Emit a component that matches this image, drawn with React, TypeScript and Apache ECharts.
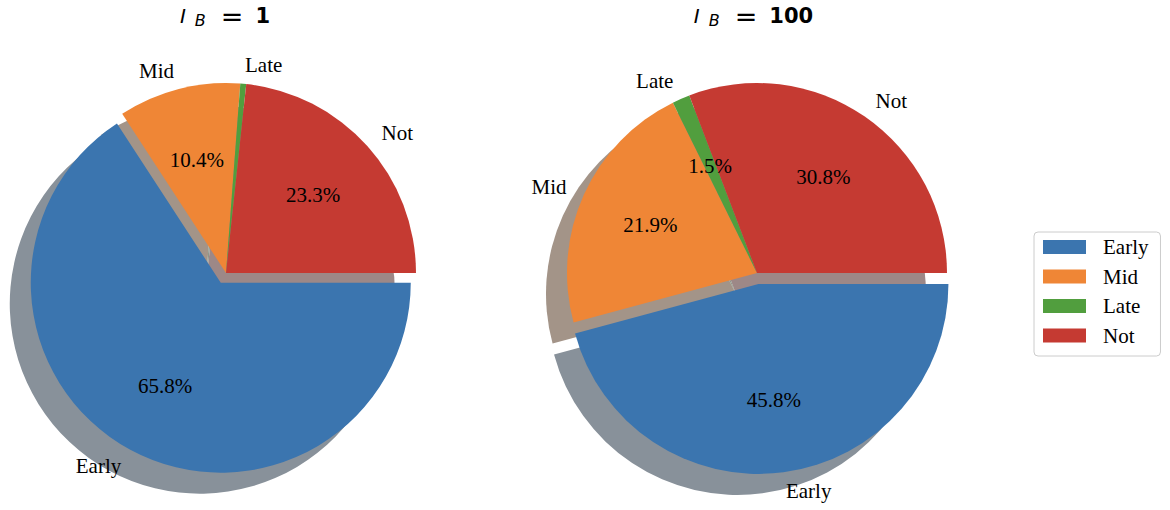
import React, { useEffect, useRef } from 'react';
import * as echarts from 'echarts';

// ---- data ----
const categories = ['Early', 'Mid', 'Late', 'Not'];
const valuesIB1 = [65.8, 10.4, 0.5, 23.3];
const valuesIB100 = [45.8, 21.9, 1.5, 30.8];
const explodedIB1 = [true, false, false, false];
const explodedIB100 = [true, false, false, false];
const titleValues = ['1', '100'];

// ---- style ----
const COLORS = ['#3b75af', '#ef8636', '#519e3e', '#c53a32'];
const SERIF = '"Liberation Serif", "Times New Roman", serif';
const SANS = '"DejaVu Sans", sans-serif';
const R = 190;
const EXPLODE = 11;
const SHADOW_DX = -21;
const SHADOW_DY = 21;

function shadowOf(hex: string): string {
  const h = hex.replace('#', '');
  const c = [0, 2, 4].map((k) => parseInt(h.slice(k, k + 2), 16));
  const s = c.map((v) => Math.round(v * 0.15 + 127.5));
  return `rgb(${s[0]},${s[1]},${s[2]})`;
}

function pieSeries(values: number[], exploded: boolean[], cx: number, cy: number, key: string) {
  const mk = (colorFn: (i: number) => string) =>
    categories.map((name, i) => ({
      name,
      value: values[i],
      selected: exploded[i],
      itemStyle: { color: colorFn(i) },
    }));
  const common = {
    type: 'pie',
    startAngle: 0,
    clockwise: true,
    selectedMode: 'multiple',
    selectedOffset: EXPLODE,
    avoidLabelOverlap: false,
    silent: true,
    emphasis: { disabled: true },
    animation: false,
  };
  return [
    {
      ...common,
      id: key + '-main',
      z: 3,
      center: [cx, cy],
      radius: R,
      itemStyle: { borderWidth: 0 },
      label: {
        show: true,
        position: 'outside',
        formatter: '{b}',
        fontFamily: SERIF,
        fontSize: 21,
        color: '#000',
        distanceToLabelLine: 0,
      },
      labelLine: { show: false, length: 19, length2: 0 },
      data: mk((i) => COLORS[i]),
    },
    {
      ...common,
      id: key + '-shadow',
      z: 1,
      center: [cx + SHADOW_DX, cy + SHADOW_DY],
      radius: R,
      itemStyle: { borderWidth: 0 },
      label: { show: false },
      labelLine: { show: false },
      data: mk((i) => shadowOf(COLORS[i])),
    },
    {
      ...common,
      id: key + '-pct',
      z: 4,
      center: [cx, cy],
      radius: R * 1.2,
      itemStyle: { borderWidth: 0 },
      label: {
        show: true,
        position: 'inside',
        formatter: (p: any) => `${Number(p.value).toFixed(1)}%`,
        fontFamily: SERIF,
        fontSize: 21,
        color: '#000',
      },
      labelLine: { show: false },
      data: mk(() => 'rgba(0,0,0,0)'),
    },
  ];
}

const titleRich = {
  i: { fontFamily: SANS, fontStyle: 'italic', fontWeight: 'normal', fontSize: 20, lineHeight: 24, color: '#000', padding: [0, 9, 0, 0] },
  s: { fontFamily: SANS, fontStyle: 'italic', fontWeight: 'normal', fontSize: 16, lineHeight: 10, verticalAlign: 'bottom', color: '#000', padding: [0, 11, 0, 0] },
  e: { fontFamily: SANS, fontStyle: 'normal', fontWeight: 'normal', fontSize: 27, lineHeight: 24, color: '#000', padding: [0, 12, 0, 4] },
  n: { fontFamily: SANS, fontStyle: 'normal', fontWeight: 'bold', fontSize: 21, lineHeight: 24, color: '#000' },
};

export default function App() {
  const ref = useRef<HTMLDivElement>(null);
  useEffect(() => {
    if (!ref.current) return;
    const chart = echarts.init(ref.current, null, { renderer: 'svg' });
    const option: any = {
      animation: false,
      backgroundColor: '#ffffff',
      title: titleValues.map((v, k) => ({
        text: `{i|I}{s|B}{e|=}{n|${v}}`,
        left: k === 0 ? 225 : 753.5,
        top: 4,
        padding: 0,
        textAlign: 'center',
        textStyle: { fontWeight: 'normal', fontFamily: SANS, rich: titleRich },
      })),
      legend: {
        orient: 'vertical',
        left: 1034,
        top: 232,
        icon: 'rect',
        itemWidth: 43,
        itemHeight: 14,
        itemGap: 8.5,
        padding: [4.5, 12, 10, 9],
        borderColor: '#cccccc',
        borderWidth: 1,
        borderRadius: 4,
        backgroundColor: '#ffffff',
        selectedMode: false,
        textStyle: { fontFamily: SERIF, fontSize: 21, color: '#000', padding: [0, 0, 0, 12] },
        data: categories.map((n, i) => ({ name: n, itemStyle: { color: COLORS[i] } })),
      },
      series: [
        ...pieSeries(valuesIB1, explodedIB1, 226, 273, 'ib1'),
        ...pieSeries(valuesIB100, explodedIB100, 757, 273, 'ib100'),
      ],
    };
    chart.setOption(option);
    return () => chart.dispose();
  }, []);
  return (
    <div
      ref={ref}
      style={{ position: 'fixed', left: 0, top: 0, width: 1170, height: 510, background: '#fff' }}
    />
  );
}
